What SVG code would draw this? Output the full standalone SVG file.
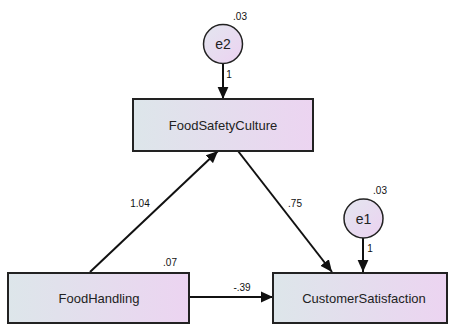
<svg xmlns="http://www.w3.org/2000/svg" width="450" height="325" viewBox="0 0 450 325">
<style>
.box{stroke:#222;stroke-width:2;fill:url(#gb)}
.circ{stroke:#222;stroke-width:1.5;fill:url(#gc)}
.lbl{font-family:"Liberation Sans",Arial,sans-serif;font-size:13px;fill:#222;text-anchor:middle}
.num{font-family:"Liberation Sans",Arial,sans-serif;font-size:10px;fill:#111;text-anchor:middle}
.edge{stroke:#111;stroke-width:2;fill:none;marker-end:url(#ahb)}
</style>
<defs>
<linearGradient id="gb" x1="0" y1="0" x2="1" y2="0">
<stop offset="0" stop-color="#dde6ea"/>
<stop offset="1" stop-color="#ecd4f1"/>
</linearGradient>
<linearGradient id="gc" x1="0" y1="0" x2="1" y2="1">
<stop offset="0" stop-color="#e3e6ef"/>
<stop offset="1" stop-color="#ecd2f1"/>
</linearGradient>
<marker id="ahb" viewBox="0 0 10 10" refX="10" refY="5" markerWidth="12" markerHeight="12" markerUnits="userSpaceOnUse" orient="auto">
<path d="M0,0.5 L10,5 L0,9.5 z" fill="#111"/>
</marker>
</defs>
<g id="connectors">
<line class="edge" x1="223" y1="64" x2="223" y2="99"/>
<line class="edge" x1="363" y1="238" x2="363" y2="272"/>
<line class="edge" x1="90" y1="272" x2="218" y2="151"/>
<line class="edge" x1="238" y1="151" x2="332" y2="272"/>
<line class="edge" x1="189" y1="297" x2="273" y2="297"/>
<text class="num" x="229" y="78">1</text>
<text class="num" x="370" y="252">1</text>
<text class="num" x="140" y="207">1.04</text>
<text class="num" x="295" y="207">.75</text>
<text class="num" x="242" y="291">-.39</text>
</g>
<g id="e2">
<circle class="circ" cx="223" cy="44" r="19.5"/>
<text class="lbl" x="223" y="49" style="font-size:14px">e2</text>
<text class="num" x="240" y="20">.03</text>
</g>
<g id="e1">
<circle class="circ" cx="363.5" cy="218.5" r="19.5"/>
<text class="lbl" x="363.5" y="223.5" style="font-size:14px">e1</text>
<text class="num" x="380" y="194">.03</text>
</g>
<g id="FoodSafetyCulture">
<rect class="box" x="133" y="99" width="180" height="52"/>
<text class="lbl" x="223" y="130">FoodSafetyCulture</text>
</g>
<g id="FoodHandling">
<rect class="box" x="8" y="273" width="181" height="50"/>
<text class="lbl" x="99" y="303">FoodHandling</text>
<text class="num" x="170" y="266">.07</text>
</g>
<g id="CustomerSatisfaction">
<rect class="box" x="273" y="273" width="174" height="50"/>
<text class="lbl" x="364" y="303">CustomerSatisfaction</text>
</g>
</svg>
